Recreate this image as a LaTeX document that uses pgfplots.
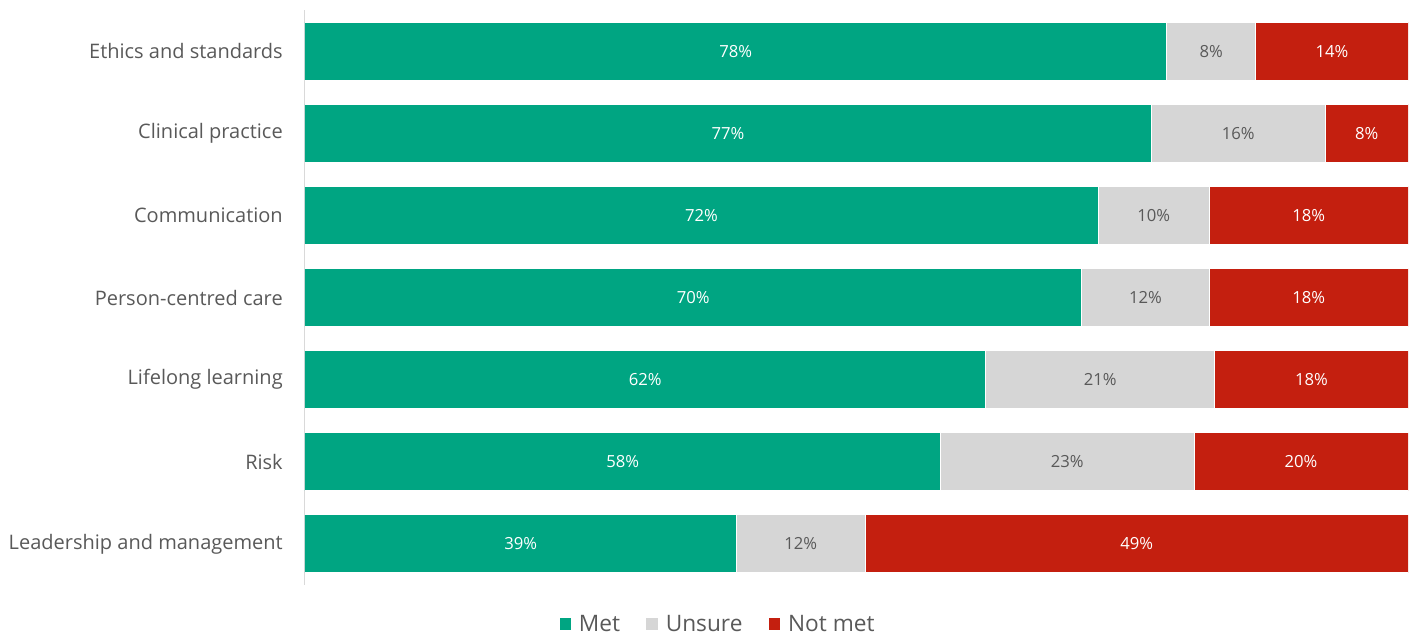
\documentclass[border=0pt]{standalone}
\usepackage{pgfplots}
\pgfplotsset{compat=1.18}
\usepackage{pgfplotstable}
\usepackage{fontspec}
\setmainfont{Open Sans}
\definecolor{met}{HTML}{00A582}
\definecolor{uns}{HTML}{D6D6D6}
\definecolor{nmet}{HTML}{C41F0F}
\definecolor{txt}{HTML}{595959}

\pgfplotstableread{
idx met unsure notmet lmet luns lnot
0 78.1 8.1 13.8 78 8 14
1 76.7 15.8 7.5 77 16 8
2 71.9 10.1 18.0 72 10 18
3 70.4 11.6 18.0 70 12 18
4 61.7 20.8 17.5 62 21 18
5 57.6 23.0 19.4 58 23 20
6 39.1 11.7 49.2 39 12 49
}\data

\pgfplotsset{
  common/.style={
    scale only axis, width=827.25pt, height=431.25pt,
    at={(0,0)}, anchor=south west,
    xmin=0, xmax=100, ymin=-0.5, ymax=6.5, y dir=reverse,
  },
  lbl/.style={draw=none, mark=none, nodes near coords={\pgfplotspointmeta\%},
    point meta=explicit symbolic,
    every node near coord/.style={anchor=center, font=\fontsize{12.5}{14}\selectfont, text=#1}},
}

\begin{document}
\begin{tikzpicture}
\begin{axis}[common,
  xbar stacked, bar width=43.5pt,
  axis x line=none, axis y line*=left,
  y axis line style={draw=black!15, line width=0.75pt},
  ytick={0,...,6},
  yticklabels={Ethics and standards, Clinical practice, Communication, Person-centred care, Lifelong learning, Risk, Leadership and management},
  major tick length=0pt, ytick style={draw=none},
  yticklabel style={font=\fontsize{15}{18}\selectfont, text=txt, inner sep=0pt, xshift=-16.5pt},
  legend style={at={(0.3744,-0.068)}, anchor=center, draw=none, fill=none,
    legend columns=-1, font=\fontsize{17}{20}\selectfont, text=txt,
    /tikz/every odd column/.append style={column sep=3pt},
    /tikz/every even column/.append style={column sep=17pt}},
  legend image code/.code={\fill[#1] (0pt,-4.75pt) rectangle (9.5pt,4.75pt);},
]
\addplot[fill=met, draw=white, line width=0.75pt] table[x=met, y=idx]{\data};
\addplot[fill=uns, draw=white, line width=0.75pt] table[x=unsure, y=idx]{\data};
\addplot[fill=nmet, draw=white, line width=0.75pt] table[x=notmet, y=idx]{\data};
\legend{Met, Unsure, Not met}
\end{axis}
\begin{axis}[common, hide axis]
\addplot[lbl=white] table[x expr=\thisrow{met}/2, y=idx, meta=lmet]{\data};
\addplot[lbl=txt] table[x expr=\thisrow{met}+\thisrow{unsure}/2, y=idx, meta=luns]{\data};
\addplot[lbl=white] table[x expr=\thisrow{met}+\thisrow{unsure}+\thisrow{notmet}/2, y=idx, meta=lnot]{\data};
\end{axis}
\pgfresetboundingbox
\path[use as bounding box] (-228.75pt,-39pt) rectangle (830.25pt,438.75pt);
\end{tikzpicture}
\end{document}
